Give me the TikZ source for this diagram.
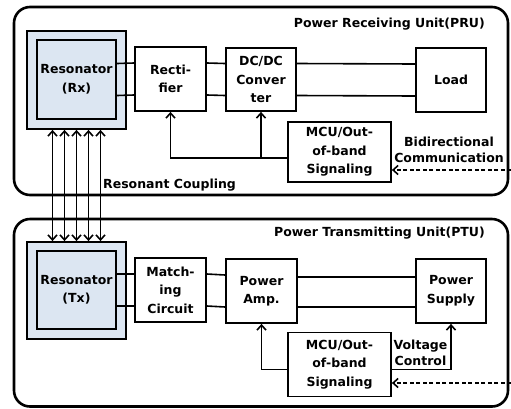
\documentclass[tikz,border=0pt]{standalone}
\usepackage{fontspec}
\setmainfont{DejaVu Sans}
\usetikzlibrary{calc,arrows.meta}
\definecolor{resblue}{HTML}{DCE6F2}
\begin{document}
\begin{tikzpicture}[x=1pt,y=-1pt,
        block/.style={draw,line width=1.8pt,align=center,inner sep=0pt,
                font=\bfseries\fontsize{12.5}{18.5}\selectfont},
        label/.style={align=center,inner sep=0pt,
                font=\bfseries\fontsize{12.5}{16.5}\selectfont},
        wire/.style={line width=1.6pt},
        arr/.style={line width=1.6pt,-{Straight Barb[length=5pt,width=9pt]}},
        commdash/.style={dash pattern=on 4pt off 2.5pt}]
        \useasboundingbox (0,0) rectangle (511,408);
        \draw [line width=2.6pt,rounded corners=16pt] (14,7) rectangle (508,195);
        \draw [line width=2.6pt,rounded corners=16pt] (14,219) rectangle (508,406.5);
        \node [anchor=east,label] (pru) at (485,24) {Power Receiving Unit(PRU)};
        \node [anchor=east,label] (ptu) at (485,233) {Power Transmitting Unit(PTU)};

        \node [block,fill=resblue,minimum width=99pt,minimum height=98pt] (rxo) at (76.5,80) {};
        \node [block,minimum width=79pt,minimum height=79pt] (rx) at (76.5,79.5) {Resonator\\(Rx)};
        \node [block,minimum width=71pt,minimum height=64pt] (rect) at (170.5,79) {Recti-\\fier};
        \node [block,minimum width=70pt,minimum height=63pt] (dcdc) at (261,79.5) {DC/DC\\Conver\\ter};
        \node [block,minimum width=70pt,minimum height=64pt] (load) at (451,80) {Load};
        \node [block,minimum width=103pt,minimum height=60pt] (mcur) at (339.5,152) {MCU/Out-\\of-band\\Signaling};

        \node [block,fill=resblue,minimum width=99pt,minimum height=97pt] (txo) at (76.5,290.5) {};
        \node [block,minimum width=79pt,minimum height=78pt] (tx) at (76.5,290) {Resonator\\(Tx)};
        \node [block,minimum width=71pt,minimum height=64pt] (match) at (170.5,290) {Match-\\ing\\Circuit};
        \node [block,minimum width=71pt,minimum height=64pt] (amp) at (261.5,291) {Power\\Amp.};
        \node [block,minimum width=70pt,minimum height=64pt] (supply) at (451,291) {Power\\Supply};
        \node [block,minimum width=103pt,minimum height=64pt] (mcut) at (339.5,364.5) {MCU/Out-\\of-band\\Signaling};

        \foreach \s in {16,-16} {
                \draw [wire] ([yshift=\s pt]rx.east) -- ([yshift=\s pt]rect.west);
                \draw [wire] ([yshift=\s pt]rect.east) -- ([yshift=\s pt]dcdc.west);
                \draw [wire] ([yshift=\s pt]dcdc.east) -- ([yshift=\s pt]load.west);
                \draw [wire] ([yshift=\s pt]tx.east) -- ([yshift=\s pt]match.west);
                \draw [wire] ([yshift=\s pt]match.east) -- ([yshift=\s pt]amp.west);
        }
        \draw [wire] ([yshift=14pt]amp.east) -- ([yshift=14pt]supply.west);
        \draw [wire] ([yshift=-16pt]amp.east) -- ([yshift=-16pt]supply.west);

        \foreach \d in {-24,-12,0,12,24}
                \draw [arr,{Straight Barb[length=5pt,width=9pt]}-{Straight Barb[length=5pt,width=9pt]}] ([xshift=\d pt]rxo.south) -- ([xshift=\d pt]txo.north);
        \node [anchor=west,label] (coup) at (103,185) {Resonant Coupling};

        \coordinate (fbr) at ([yshift=-6pt]mcur.west);
        \draw [arr] (fbr) -| (rect.south);
        \draw [arr] (fbr -| dcdc.south) -- (dcdc.south);
        \coordinate (commr) at (511,170);
        \draw [arr,commdash] (commr) -- (commr -| mcur.east);
        \node [label] (bidi) at (449,150) {Bidirectional\\Communication};

        \draw [arr] ([yshift=-5pt]mcut.west) -| (amp.south);
        \draw [arr] ([yshift=-5pt]mcut.east) -| (supply.south);
        \node [label] (volt) at (420.5,353) {Voltage\\Control};
        \coordinate (commt) at (511,383);
        \draw [arr,commdash] (commt) -- (commt -| mcut.east);
\end{tikzpicture}
\end{document}
